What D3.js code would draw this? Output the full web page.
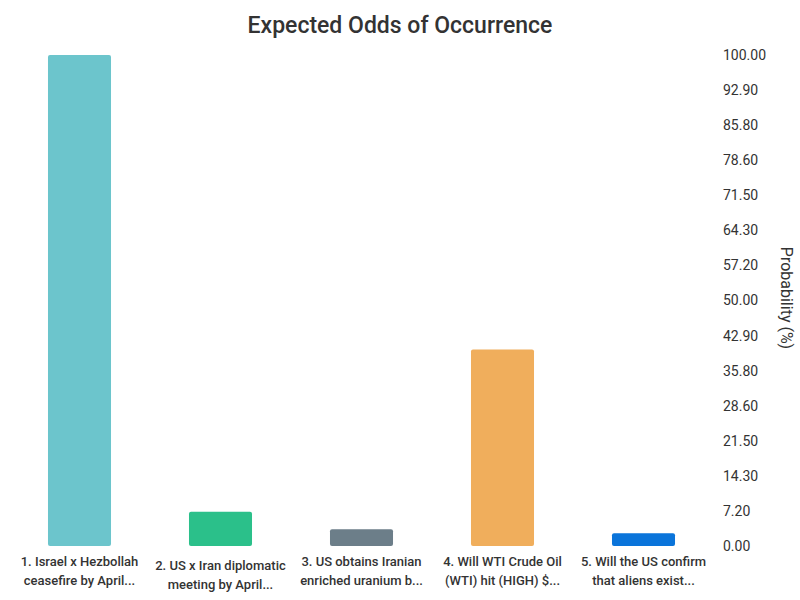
<!DOCTYPE html>
<html><head><meta charset="utf-8">
<script src="https://cdn.jsdelivr.net/npm/d3@7"></script>
<style>body{margin:0;background:#fff;} text{font-family:Roboto, "Noto Sans", sans-serif;}</style>
</head><body><svg id="c" width="800" height="600"></svg>
<script>
const categories = ["1. Israel x Hezbollah ceasefire by April...", "2. US x Iran diplomatic meeting by April...", "3. US obtains Iranian enriched uranium b...", "4. Will WTI Crude Oil (WTI) hit (HIGH) $...", "5. Will the US confirm that aliens exist..."];
const labelLines = [["1. Israel x Hezbollah","ceasefire by April..."],["2. US x Iran diplomatic","meeting by April..."],["3. US obtains Iranian","enriched uranium b..."],["4. Will WTI Crude Oil","(WTI) hit (HIGH) $..."],["5. Will the US confirm","that aliens exist..."]];
const values = [100, 7.0, 3.4, 40.0, 2.6];
const colors = ["#6CC5CC", "#2BC08A", "#6C7E89", "#F0AE5C", "#0A74DA"];
const tickLabels = ["0.00","7.20","14.30","21.50","28.60","35.80","42.90","50.00","57.20","64.30","71.50","78.60","85.80","92.90","100.00"];
const tickValues = tickLabels.map((d,i)=>i*100/14);

const svg = d3.select("#c");
const x = d3.scaleBand().domain(categories).range([9, 714]).paddingInner(0.553).paddingOuter(0.2765);
const y = d3.scaleLinear().domain([0, 100]).range([546, 55]);

svg.append("text").attr("x", 400).attr("y", 33).attr("text-anchor","middle")
  .attr("font-size", 23).attr("font-weight", 500).attr("fill", "#333").text("Expected Odds of Occurrence");

svg.selectAll("rect.bar").data(values).enter().append("rect")
  .attr("class","bar")
  .attr("x", (d,i)=>x(categories[i]))
  .attr("width", x.bandwidth())
  .attr("y", d=>y(d))
  .attr("height", d=>y(0)-y(d))
  .attr("rx", 2)
  .attr("fill", (d,i)=>colors[i]);

const yAxis = d3.axisRight(y).tickValues(tickValues).tickFormat((d,i)=>tickLabels[i]).tickSize(0).tickPadding(0);
const ga = svg.append("g").attr("transform","translate(723,0)").call(yAxis);
ga.select(".domain").remove();
ga.selectAll("text").attr("font-size", 14).attr("fill", "#333").style("font-family","Roboto, sans-serif");

svg.append("text").attr("transform","translate(781,298) rotate(90)").attr("text-anchor","middle")
  .attr("font-size", 16).attr("fill","#333").text("Probability (%)");

const xl = svg.selectAll("g.xl").data(labelLines).enter().append("g").attr("class","xl")
  .attr("transform",(d,i)=>`translate(${x(categories[i])+x.bandwidth()/2},0)`);
xl.each(function(lines, i){
  const t = d3.select(this).append("text").attr("text-anchor","middle").attr("font-size",13).attr("font-weight",500).attr("fill","#333");
  const off = i === 1 ? 4 : 0;
  lines.forEach((l,j)=>t.append("tspan").attr("x",0).attr("y",566 + off + j*19).text(l));
});
</script></body></html>
